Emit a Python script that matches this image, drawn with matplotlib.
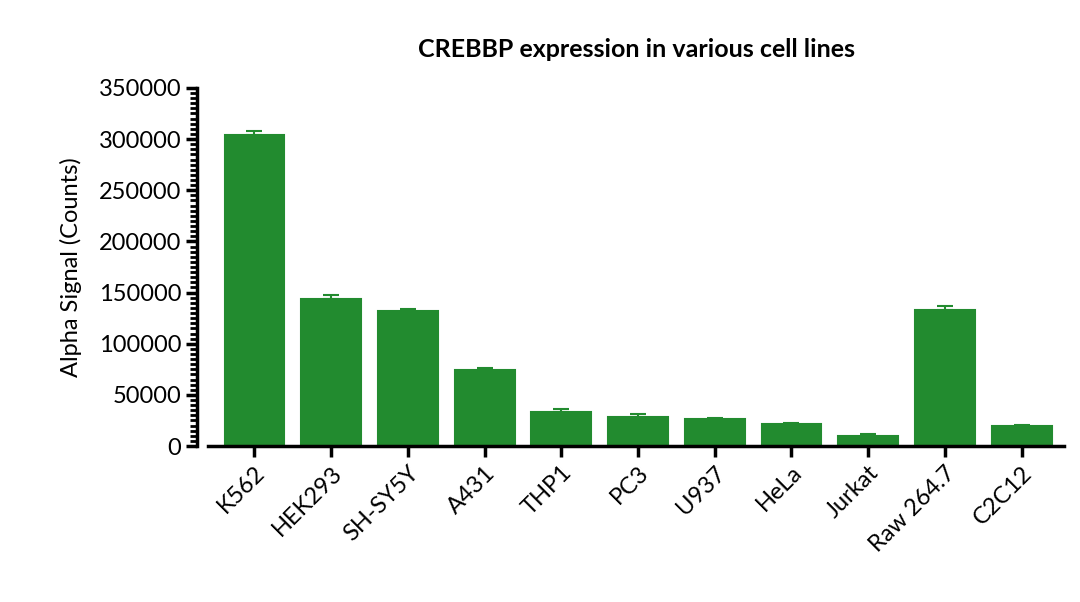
import matplotlib.pyplot as plt
import matplotlib.ticker as ticker
import numpy as np

cells = ["K562", "HEK293", "SH-SY5Y", "A431", "THP1", "PC3", "U937", "HeLa",
         "Jurkat", "Raw 264.7", "C2C12"]
signal = [303500, 143500, 132000, 74500, 33500, 28500, 26500, 21500, 10000, 133000, 19500]
err = [4500, 4000, 1500, 2000, 3000, 2500, 1000, 1000, 1500, 4000, 1000]

plt.rcParams["font.family"] = "Lato"
fig = plt.figure(figsize=(10.8, 6.02), dpi=100)
ax = fig.add_axes([0.193, 0.259, 0.792, 0.595])

x = np.arange(len(cells))
green = "#228b2f"
ax.bar(x, signal, width=0.78, color=green, edgecolor=green, linewidth=1.5)
ax.errorbar(x, signal, yerr=[np.zeros(len(err)), err], fmt="none",
            ecolor=green, capsize=6, elinewidth=1.5, capthick=1.5)

ax.set_xlim(-0.6, len(cells) - 0.45)
ax.set_ylim(0, 350000)
ax.yaxis.set_major_locator(ticker.MultipleLocator(50000))
ax.yaxis.set_minor_locator(ticker.MultipleLocator(5000))
ax.tick_params(axis="y", which="major", length=8, width=2.5, labelsize=17)
ax.tick_params(axis="y", which="minor", length=5, width=2)
ax.tick_params(axis="x", length=8, width=2.5, labelsize=17)
ax.set_xticks(x)
ax.set_xticklabels(cells, rotation=45, ha="right", rotation_mode="anchor")
for s in ["top", "right"]:
    ax.spines[s].set_visible(False)
for s in ["left", "bottom"]:
    ax.spines[s].set_linewidth(2.5)
ax.spines["left"].set_position(("outward", 8))

ax.set_ylabel("Alpha Signal (Counts)", fontsize=17, labelpad=12)
ax.set_title("CREBBP expression in various cell lines", fontsize=18,
             fontweight="bold", pad=22)

plt.savefig("out.png")
